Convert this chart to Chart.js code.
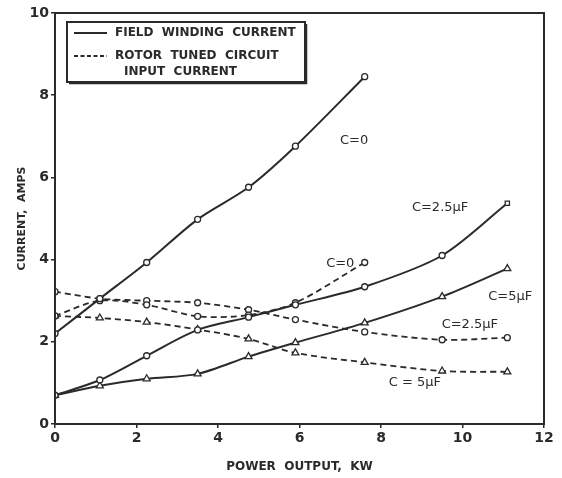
<!DOCTYPE html>
<html lang="en">
<head>
    <meta charset="UTF-8" />
    <title>Current vs Power Output</title>
    <script src="https://cdn.jsdelivr.net/npm/chart.js"></script>
    <style>
        html, body { margin: 0; padding: 0; background: #fff; }
        #wrap { width: 562px; height: 478px; }
    </style>
</head>
<body>
    <div id="wrap"><canvas id="currentChart" width="562" height="478"></canvas></div>

    <script>
        // power output, kW
        var powerC0 = [0, 1.1, 2.25, 3.5, 4.75, 5.9, 7.6];
        var power = [0, 1.1, 2.25, 3.5, 4.75, 5.9, 7.6, 9.5, 11.1];

        // field winding current, amps
        var fieldC0 = [2.2, 3.05, 3.93, 4.98, 5.76, 6.76, 8.45];
        var fieldC25 = [0.7, 1.07, 1.66, 2.29, 2.6, 2.9, 3.34, 4.1, 5.37];
        var fieldC5 = [0.7, 0.93, 1.1, 1.22, 1.64, 1.98, 2.46, 3.1, 3.78];

        // rotor tuned circuit input current, amps
        var rotorC0 = [2.63, 3.0, 2.9, 2.62, 2.65, 2.95, 3.93];
        var rotorC25 = [3.22, 3.05, 3.0, 2.95, 2.78, 2.54, 2.24, 2.05, 2.1];
        var rotorC5 = [2.63, 2.58, 2.48, 2.3, 2.07, 1.73, 1.5, 1.29, 1.27];

        var xTicks = [0, 2, 4, 6, 8, 10, 12];
        var yTicks = [0, 2, 4, 6, 8, 10];

        // curve labels: text and where they sit (data units)
        var curveLabels = ['C=0', 'C=2.5\u00b5F', 'C=0', 'C=5\u00b5F', 'C=2.5\u00b5F', 'C = 5\u00b5F'];
        var labelX = [7.34, 9.45, 7.0, 11.17, 10.18, 8.83];
        var labelY = [6.89, 5.26, 3.89, 3.09, 2.41, 1.0];

        var ink = '#2a2a2a';

        function pts(xs, ys) {
            return ys.map(function (v, i) { return { x: xs[i], y: v }; });
        }

        function series(label, xs, ys, style, dashed) {
            return {
                label: label,
                data: pts(xs, ys),
                borderColor: ink,
                backgroundColor: '#fff',
                borderWidth: dashed ? 1.8 : 2,
                borderDash: dashed ? [6, 4] : [],
                pointStyle: style,
                pointRadius: style === 'triangle' ? 4 : 3,
                pointBorderWidth: 1.3,
                pointBorderColor: ink,
                pointBackgroundColor: '#fff',
                tension: 0.3,
                fill: false
            };
        }

        var c25Styles = power.map(function (v, i) { return i === power.length - 1 ? 'rect' : 'circle'; });

        var datasets = [
            series('Field C=0', powerC0, fieldC0, 'circle', false),
            series('Field C=2.5', power, fieldC25, c25Styles, false),
            series('Field C=5', power, fieldC5, 'triangle', false),
            series('Rotor C=0', powerC0, rotorC0, 'circle', true),
            series('Rotor C=2.5', power, rotorC25, 'circle', true),
            series('Rotor C=5', power, rotorC5, 'triangle', true)
        ];

        // frame, legend box and curve labels
        var decorPlugin = {
            id: 'decor',
            afterDatasetsDraw: function (chart) {
                var ctx = chart.ctx;
                var a = chart.chartArea;
                var xs = chart.scales.x, ys = chart.scales.y;
                ctx.save();

                // frame
                ctx.strokeStyle = ink;
                ctx.lineWidth = 2;
                ctx.strokeRect(a.left, a.top, a.right - a.left, a.bottom - a.top);

                // legend box
                var bx = 67, by = 22, bw = 238, bh = 60;
                ctx.fillStyle = '#fff';
                ctx.fillRect(bx, by, bw, bh);
                ctx.lineWidth = 2;
                ctx.strokeRect(bx, by, bw, bh);
                ctx.lineWidth = 1.5;
                ctx.beginPath();
                ctx.moveTo(bx + 2, by + bh + 1.5);
                ctx.lineTo(bx + bw + 1.5, by + bh + 1.5);
                ctx.lineTo(bx + bw + 1.5, by + 2);
                ctx.stroke();

                ctx.lineWidth = 2;
                ctx.beginPath();
                ctx.moveTo(74, 33);
                ctx.lineTo(107, 33);
                ctx.stroke();
                ctx.setLineDash([4, 2.5]);
                ctx.beginPath();
                ctx.moveTo(74, 56);
                ctx.lineTo(107, 56);
                ctx.stroke();
                ctx.setLineDash([]);

                ctx.fillStyle = ink;
                ctx.font = 'bold 12px "DejaVu Sans"';
                ctx.textBaseline = 'middle';
                ctx.textAlign = 'left';
                ctx.fillText('FIELD  WINDING  CURRENT', 115, 33);
                ctx.fillText('ROTOR  TUNED  CIRCUIT', 115, 56);
                ctx.fillText('INPUT  CURRENT', 124, 72);

                // curve labels
                ctx.font = '13px "DejaVu Sans"';
                ctx.textAlign = 'center';
                for (var i = 0; i < curveLabels.length; i++) {
                    ctx.fillText(curveLabels[i], xs.getPixelForValue(labelX[i]), ys.getPixelForValue(labelY[i]));
                }
                ctx.restore();
            }
        };

        var tickFont = { family: 'DejaVu Sans', size: 14, weight: 'bold' };

        var ctx = document.getElementById('currentChart').getContext('2d');
        var myChart = new Chart(ctx, {
            type: 'line',
            data: { datasets: datasets },
            plugins: [decorPlugin],
            options: {
                responsive: false,
                animation: false,
                layout: { padding: { top: 13, right: 18, left: 0, bottom: 0 } },
                plugins: {
                    legend: { display: false },
                    tooltip: { enabled: false }
                },
                scales: {
                    x: {
                        type: 'linear',
                        min: 0,
                        max: 12,
                        afterBuildTicks: function (scale) {
                            scale.ticks = xTicks.map(function (v) { return { value: v }; });
                        },
                        afterFit: function (scale) { scale.height = 54; },
                        grid: { display: true, drawOnChartArea: false, color: ink, tickLength: 4, lineWidth: 1.5 },
                        border: { display: false },
                        ticks: { color: ink, font: tickFont, padding: 2, maxRotation: 0 },
                        title: {
                            display: true,
                            text: 'POWER  OUTPUT,  KW',
                            color: ink,
                            font: { family: 'DejaVu Sans', size: 12, weight: 'bold' },
                            padding: { top: 10 }
                        }
                    },
                    y: {
                        type: 'linear',
                        min: 0,
                        max: 10,
                        afterBuildTicks: function (scale) {
                            scale.ticks = yTicks.map(function (v) { return { value: v }; });
                        },
                        afterFit: function (scale) { scale.width = 55; },
                        grid: { display: true, drawOnChartArea: false, color: ink, tickLength: 4, lineWidth: 1.5 },
                        border: { display: false },
                        ticks: { color: ink, font: tickFont, padding: 2 },
                        title: {
                            display: true,
                            text: 'CURRENT,  AMPS',
                            color: ink,
                            font: { family: 'DejaVu Sans', size: 11, weight: 'bold' },
                            padding: { top: 16, bottom: 0 }
                        }
                    }
                }
            }
        });
    </script>
</body>
</html>
